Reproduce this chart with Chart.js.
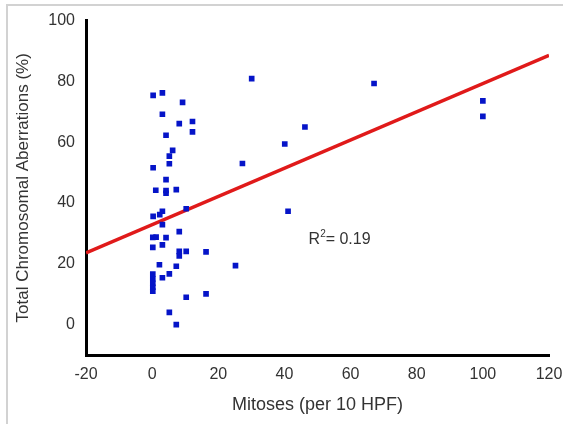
<!DOCTYPE html>
<html lang="en">
<head>
  <meta charset="UTF-8">
  <title>Mitoses vs Chromosomal Aberrations</title>
  <script src="https://cdn.jsdelivr.net/npm/chart.js"></script>
  <style>
    html, body { margin: 0; padding: 0; background: #fff; overflow: hidden; }
    .frame {
      position: absolute; left: 6px; top: 4px; width: 600px; height: 440px;
      border-left: 2px solid #d2d2d2; border-top: 2px solid #d2d2d2;
    }
    #chart { position: absolute; left: 0; top: 0; }
  </style>
</head>
<body>
  <div class="frame"></div>
  <canvas id="chart" width="563" height="424"></canvas>

  <script>
    // mitoses per 10 HPF (x) and total chromosomal aberrations % (y)
    const mitoses = [
      0.3, 3.1, 9.2, 3.1, 8.2, 12.2, 12.2, 4.2, 6.2, 5.2,
      5.2, 0.3, 4.2, 1.1, 4.2, 4.2, 7.3, 0.3, 2.3, 3.1,
      10.3, 3.1, 0.2, 1.2, 4.2, 8.2, 0.2, 3.1, 8.2, 8.2,
      10.3, 16.3, 2.2, 7.3, 5.2, 3.1, 0.2, 0.2, 0.2, 0.2,
      0.2, 10.3, 16.3, 5.2, 7.3, 30.1, 67.1, 100, 100, 46.2,
      40.1, 27.3, 41.1, 25.2
    ];
    const aberrations = [
      75.4, 76.2, 73.1, 69.2, 66.1, 66.8, 63.4, 62.3, 57.3, 55.4,
      52.9, 51.6, 47.7, 44.2, 44.1, 43.2, 44.4, 35.6, 36.2, 37.3,
      38.1, 32.9, 28.7, 28.8, 28.6, 30.6, 25.4, 26.2, 24.1, 22.6,
      24.1, 23.9, 19.7, 19.2, 16.7, 15.4, 16.6, 15.0, 13.6, 12.3,
      11.0, 9.0, 10.1, 4.0, 0.0, 80.9, 79.3, 73.6, 68.5, 65.0,
      59.4, 53.0, 37.3, 19.4
    ];
    // regression line end points
    const fitX = [-20, 120];
    const fitY = [23.6, 88.6];
    const xTicks = [-20, 0, 20, 40, 60, 80, 100, 120];
    const yTicks = [0, 20, 40, 60, 80, 100];
    const rSquared = '0.19';

    const points = mitoses.map((x, i) => ({ x, y: aberrations[i] }));
    const fitLine = fitX.map((x, i) => ({ x, y: fitY[i] }));

    const textColor = '#333';
    const font = 'Liberation Sans, Arial, sans-serif';

    // R² annotation drawn in data coordinates
    const rLabel = {
      id: 'rLabel',
      afterDatasetsDraw(chart) {
        const { ctx, scales: { x, y } } = chart;
        const px = x.getPixelForValue(47.3), py = y.getPixelForValue(26.5);
        ctx.save();
        ctx.fillStyle = textColor;
        ctx.textBaseline = 'alphabetic';
        ctx.font = `16px ${font}`;
        ctx.fillText('R', px, py);
        let w = ctx.measureText('R').width;
        ctx.font = `10px ${font}`;
        ctx.fillText('2', px + w, py - 7);
        w += ctx.measureText('2').width;
        ctx.font = `16px ${font}`;
        ctx.fillText('= ' + rSquared, px + w, py);
        ctx.restore();
      }
    };

    new Chart(document.getElementById('chart'), {
      type: 'scatter',
      data: {
        datasets: [
          {
            label: 'Fit', data: fitLine, showLine: true,
            borderColor: '#e01a1a', borderWidth: 3.5, pointRadius: 0, order: 2
          },
          {
            label: 'Cases', data: points,
            pointStyle: 'rect', pointRadius: 4, pointHoverRadius: 4,
            backgroundColor: '#0514c8', borderColor: '#0514c8', borderWidth: 0, order: 1
          }
        ]
      },
      options: {
        responsive: false, animation: false,
        layout: { padding: { left: 0, top: 20, right: 14, bottom: 0 } },
        plugins: { legend: { display: false }, tooltip: { enabled: false } },
        scales: {
          x: {
            type: 'linear', min: -20, max: 120,
            afterBuildTicks: s => { s.ticks = xTicks.map(v => ({ value: v })); },
            afterFit: s => { s.height = 69; s.paddingRight = 0; s.paddingLeft = 0; },
            grid: { display: false, drawTicks: false },
            border: { display: true, color: '#000', width: 3 },
            ticks: { color: textColor, padding: 10, font: { family: font, size: 16 }, maxRotation: 0 },
            title: {
              display: true, text: 'Mitoses (per 10 HPF)', color: textColor,
              font: { family: font, size: 18 }, padding: { top: 0, bottom: 8 }
            }
          },
          y: {
            type: 'linear', min: -10, max: 100,
            afterBuildTicks: s => { s.ticks = yTicks.map(v => ({ value: v })); },
            afterFit: s => { s.width = 86; },
            grid: { display: false, drawTicks: false },
            border: { display: true, color: '#000', width: 3 },
            ticks: { color: textColor, padding: 11, font: { family: font, size: 16 } },
            title: {
              display: true, text: 'Total Chromosomal Aberrations (%)', color: textColor,
              font: { family: font, size: 17 }, padding: { top: 13, bottom: 0 }
            }
          }
        }
      },
      plugins: [rLabel]
    });
  </script>
</body>
</html>
